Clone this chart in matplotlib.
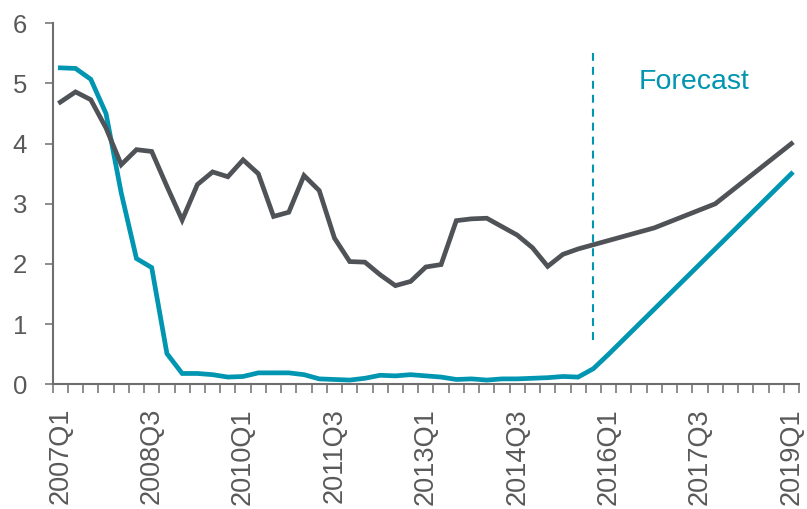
import matplotlib
matplotlib.use("Agg")
import matplotlib.pyplot as plt
from matplotlib.ticker import FixedLocator
import numpy as np

plt.rcParams['font.family'] = ['Liberation Sans', 'DejaVu Sans']

# quarterly categories 2007Q1 .. 2019Q1
quarters = [f"{y}Q{q}" for y in range(2007, 2020) for q in range(1, 5)][:49]
tick_labels = ['2007Q1', '2008Q3', '2010Q1', '2011Q3', '2013Q1',
               '2014Q3', '2016Q1', '2017Q3', '2019Q1']

# short rate (teal)
policy_rate = [5.26, 5.25, 5.07, 4.50, 3.18, 2.09, 1.94, 0.51, 0.18, 0.18,
               0.16, 0.12, 0.13, 0.19, 0.19, 0.19, 0.16, 0.09, 0.08, 0.07,
               0.10, 0.15, 0.14, 0.16, 0.14, 0.12, 0.08, 0.09, 0.07, 0.09,
               0.09, 0.10, 0.11, 0.13, 0.12, 0.26, 0.50, 0.75, 1.00, 1.25,
               1.50, 1.75, 2.00, 2.25, 2.50, 2.75, 3.00, 3.25, 3.50]

# long rate (dark grey)
bond_yield = [4.69, 4.86, 4.73, 4.26, 3.65, 3.90, 3.87, 3.29, 2.73, 3.32,
              3.53, 3.45, 3.73, 3.50, 2.79, 2.86, 3.47, 3.22, 2.43, 2.04,
              2.03, 1.82, 1.64, 1.71, 1.95, 1.99, 2.72, 2.75, 2.76, 2.62,
              2.48, 2.27, 1.96, 2.16, 2.25, 2.32, 2.39, 2.46, 2.53, 2.60,
              2.70, 2.80, 2.90, 3.00, 3.20, 3.40, 3.60, 3.80, 4.00]

forecast_start = '2015Q4'
forecast_label = 'Forecast'

teal = '#0095B0'
grey = '#4F5256'
text_grey = '#595959'
axis_grey = '#6E6E6E'

fig = plt.figure(figsize=(8.07, 5.09), dpi=100)
ax = fig.add_axes([0.0653, 0.245, 0.9248, 0.7092])

x = np.arange(len(quarters))
ax.plot(x, policy_rate, color=teal, lw=3.4, solid_joinstyle='miter', clip_on=False, zorder=3)
ax.plot(x, bond_yield, color=grey, lw=3.4, solid_joinstyle='miter', clip_on=False, zorder=4)

xf = quarters.index(forecast_start)
ax.plot([xf, xf], [0.74, 5.51], color=teal, lw=1.5, linestyle=(0, (3.8, 2.9)), zorder=2)
ax.text(41.6, 4.91, forecast_label, color=teal, fontsize=20.5, ha='center', va='baseline')

ax.set_xlim(-0.5, len(quarters) - 0.5)
ax.set_ylim(0, 6)

# category labels without marks, tick marks between categories
ax.xaxis.set_major_locator(FixedLocator([quarters.index(t) for t in tick_labels]))
ax.set_xticklabels(tick_labels, rotation=90, fontsize=19.5, color=text_grey)
ax.tick_params(axis='x', which='major', length=0, pad=17)
ax.xaxis.set_minor_locator(FixedLocator(np.arange(-0.5, len(quarters), 1.0)))
ax.tick_params(axis='x', which='minor', length=6.5, width=1.1, color=axis_grey, direction='out')

ax.set_yticks(range(0, 7))
ax.tick_params(axis='y', length=5.5, width=1.1, color=axis_grey, labelsize=18.5,
               labelcolor=text_grey, pad=13)

for side in ['top', 'right']:
    ax.spines[side].set_visible(False)
for side in ['left', 'bottom']:
    ax.spines[side].set_color(axis_grey)
    ax.spines[side].set_linewidth(1.5)

fig.savefig('out.png', dpi=100)
